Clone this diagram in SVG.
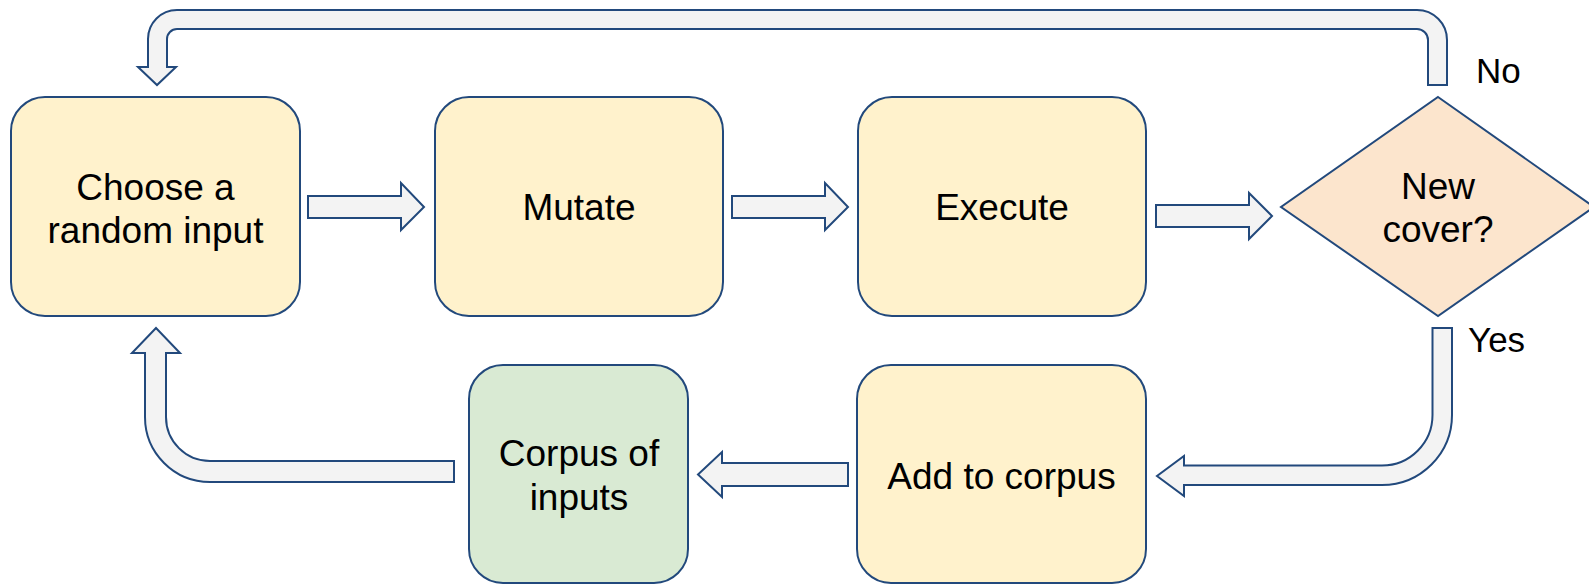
<svg xmlns="http://www.w3.org/2000/svg" width="1589" height="584" viewBox="0 0 1589 584">
<style>
.box{fill:#fff2cc;stroke:#22497c;stroke-width:2}
.green{fill:#d9ead3;stroke:#22497c;stroke-width:2}
.dia{fill:#fce5cd;stroke:#22497c;stroke-width:2}
.arr{fill:#f3f3f3;stroke:#22497c;stroke-width:2;stroke-linejoin:miter}
text{font-family:"Liberation Sans",Arial,sans-serif;font-size:37px;fill:#000}
.c{text-anchor:middle}
.lbl{font-size:35px}
</style>
<rect width="1589" height="584" fill="#ffffff"/>
<g id="connectors">
<path class="arr" d="M308,196 H401 V183 L424,207 L401,230 V218 H308 Z"/>
<path class="arr" d="M732,196 H825 V183 L848,207 L825,230 V218 H732 Z"/>
<path class="arr" d="M1156,205 H1249 V193 L1272,216 L1249,239 V227 H1156 Z"/>
<path class="arr" d="M1447,85 V40 A30,30 0 0 0 1417,10 H177 A29,29 0 0 0 148,39 V67 H138 L157,85 L176,67 H167 V39 A10,10 0 0 1 177,29 H1417 A11,11 0 0 1 1428,40 V85 Z"/>
<path class="arr" d="M1432.5,328 H1452 V415 A70,70 0 0 1 1382,485 H1184 V496 L1157,476 L1184,456 V465.5 H1382 A50.5,50.5 0 0 0 1432.5,415 Z"/>
<path class="arr" d="M848,463 H722 V452 L698,474.5 L722,497 V486 H848 Z"/>
<path class="arr" d="M454,461 H210 A44,44 0 0 1 166,417 V353 H180 L156,328 L132,353 H145 V417 A65,65 0 0 0 210,482 H454 Z"/>
<text class="lbl" x="1476" y="83">No</text>
<text class="lbl" x="1468" y="352">Yes</text>
</g>
<g id="choose">
<rect class="box" x="11" y="97" width="289" height="219" rx="34"/>
<text class="c" x="155.5" y="200">Choose a</text>
<text class="c" x="155.5" y="243">random input</text>
</g>
<g id="mutate">
<rect class="box" x="435" y="97" width="288" height="219" rx="34"/>
<text class="c" x="579" y="220">Mutate</text>
</g>
<g id="execute">
<rect class="box" x="858" y="97" width="288" height="219" rx="34"/>
<text class="c" x="1002" y="220">Execute</text>
</g>
<g id="newcover">
<polygon class="dia" points="1438,97 1594,207 1438,316 1281,207"/>
<text class="c" x="1438" y="199">New</text>
<text class="c" x="1438" y="242">cover?</text>
</g>
<g id="addcorpus">
<rect class="box" x="857" y="365" width="289" height="218" rx="34"/>
<text class="c" x="1001.5" y="489">Add to corpus</text>
</g>
<g id="corpus">
<rect class="green" x="469" y="365" width="219" height="218" rx="34"/>
<text class="c" x="579" y="466">Corpus of</text>
<text class="c" x="579" y="510">inputs</text>
</g>
</svg>
